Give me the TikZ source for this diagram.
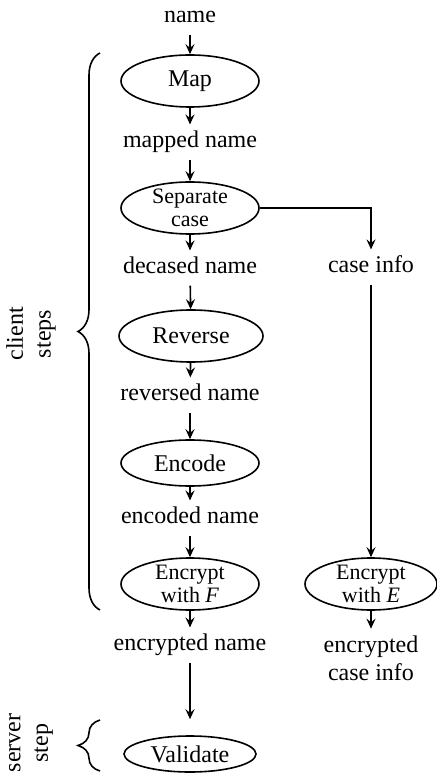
\documentclass[tikz,border=0pt]{standalone}
\usepackage{fontspec}
\setmainfont{Liberation Serif}
\usetikzlibrary{arrows.meta,decorations.pathreplacing,shapes.geometric}
\begin{document}
\begin{tikzpicture}[x=0.5pt, y=-0.5pt, > = {Stealth[length=5pt,width=4.5pt,inset=1.8pt]},
    font=\fontsize{12pt}{13.8pt}\selectfont,
    stepnode/.style={draw, ellipse, thick, inner sep=0pt, minimum width=69pt, minimum height=26pt},
    twoline/.style={align=center, inner ysep=-2pt, font=\fontsize{11pt}{11.5pt}\selectfont},
    datatext/.style={text height=8pt, text depth=2.5pt},
    grouptext/.style={rotate=90, align=center}]
    \useasboundingbox (0,0) rectangle (436,774);

    % client side
    \node[datatext] (name) at (190,17) {name};
    \node[stepnode] (map) at (190,81) {Map};
    \node[datatext] (mapped) at (190,142) {mapped name};
    \node[stepnode, twoline] (separate) at (190,208) {Separate\\case};
    \node[datatext] (decased) at (190,268) {decased name};
    \node[stepnode, minimum width=72pt] (reverse) at (191,336) {Reverse};
    \node[datatext] (reversed) at (190,395) {reversed name};
    \node[stepnode, minimum height=23pt] (encode) at (190,463) {Encode};
    \node[datatext] (encoded) at (190,518) {encoded name};
    \node[stepnode, twoline] (encryptf) at (190,584) {Encrypt\\with \textit{F}};
    \node[datatext] (encrypted) at (190,645) {encrypted name};

    \node[datatext] (caseinfo) at (371,267) {case info};
    \node[stepnode, twoline, minimum width=66pt] (encrypte) at (371,584) {Encrypt\\with \textit{E}};
    \node[align=center] (enccase) at (371,658) {encrypted\\case info};

    % server side
    \node[stepnode, minimum width=66pt, minimum height=18pt] (validate) at (190,754) {Validate};

    \draw[->, thick] (name) -- (map);
    \draw[->, thick] (map) -- (mapped);
    \draw[->, thick] (mapped) -- (separate);
    \draw[->, thick] (separate) -- (decased);
    \draw[->, thick] (decased) -- (reverse);
    \draw[->, thick] (reverse) -- (reversed);
    \draw[->, thick] (reversed) -- (encode);
    \draw[->, thick] (encode) -- (encoded);
    \draw[->, thick] (encoded) -- (encryptf);
    \draw[->, thick] (encryptf) -- (encrypted);
    \draw[->, thick, shorten >=8pt] (encrypted) -- (validate);

    \draw[->, thick] (separate.east) -| (caseinfo.north);
    \draw[->, thick] (caseinfo) -- (encrypte);
    \draw[->, thick] (encrypte) -- (enccase);

    % braces
    \draw[thick, decorate, decoration={brace, amplitude=11pt}] (100,610) -- (100,53);
    \node[grouptext] (client) at (31,334) {client\\steps};
    \draw[thick, decorate, decoration={brace, amplitude=11pt}] (100,771) -- (100,720);
    \node[grouptext] (server) at (31,743) {server\\step};
\end{tikzpicture}
\end{document}
